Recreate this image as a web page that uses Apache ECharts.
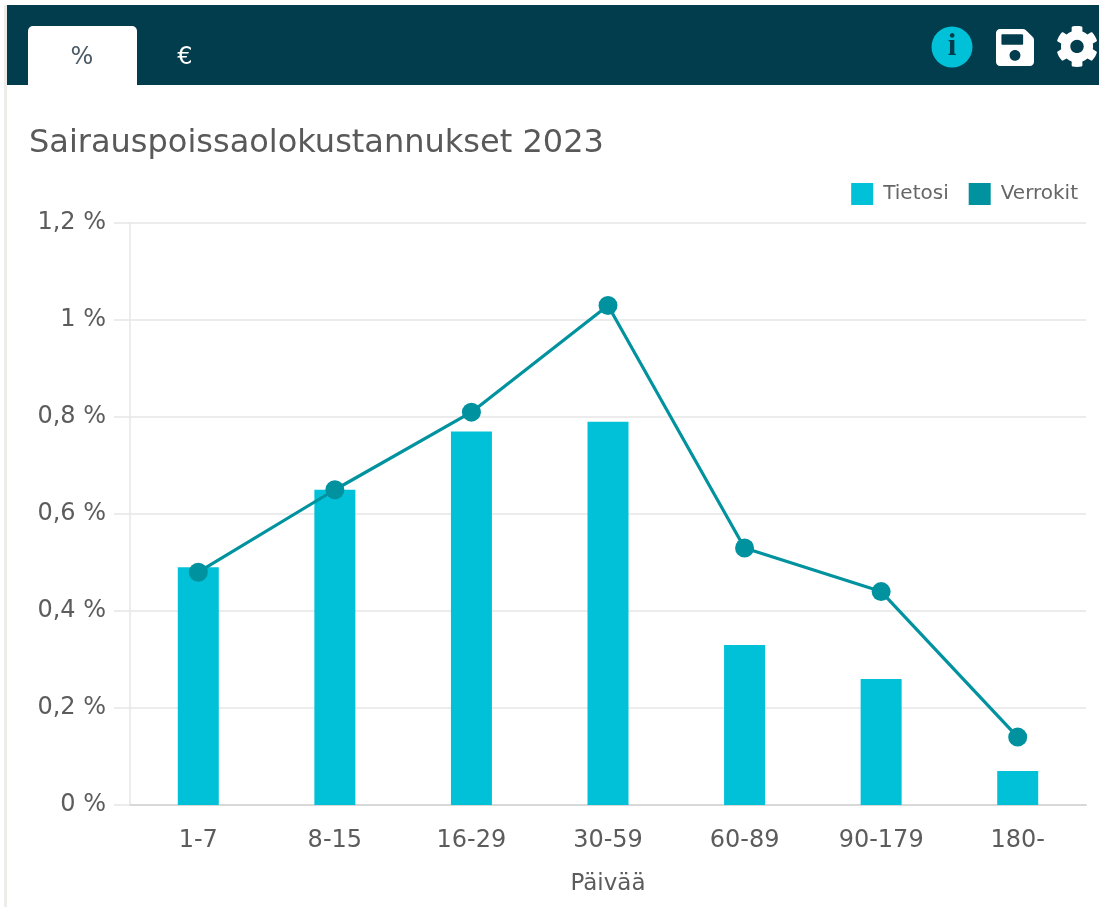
<!DOCTYPE html>
<html>
<head>
<meta charset="utf-8">
<style>
html, body { margin: 0; padding: 0; background: #fff; }
#chart { width: 1099px; height: 907px; }
</style>
<script src="https://cdn.jsdelivr.net/npm/echarts@6/dist/echarts.min.js"></script>
</head>
<body>
<div id="chart"></div>
<script>
const categories = ['1-7', '8-15', '16-29', '30-59', '60-89', '90-179', '180-'];
const tietosi = [0.49, 0.65, 0.77, 0.79, 0.33, 0.26, 0.07];
const verrokit = [0.48, 0.65, 0.81, 1.03, 0.53, 0.44, 0.14];
const titleText = 'Sairauspoissaolokustannukset 2023';
const tabs = ['%', '€'];

const fontName = '"DejaVu Sans", Verdana, sans-serif';
const barColor = '#00c1d8';
const lineColor = '#00929f';
const headerColor = '#023d4d';
const textColor = '#5c5c5c';

const floppyPath = 'M433.941 129.941l-83.882-83.882A48 48 0 0 0 316.118 32H48C21.49 32 0 53.49 0 80v352c0 26.51 21.49 48 48 48h352c26.51 0 48-21.49 48-48V163.882a48 48 0 0 0-14.059-33.941zM224 416c-35.346 0-64-28.654-64-64 0-35.346 28.654-64 64-64s64 28.654 64 64c0 35.346-28.654 64-64 64zm96-304.52V212c0 6.627-5.373 12-12 12H76c-6.627 0-12-5.373-12-12V108c0-6.627 5.373-12 12-12h228.52c3.183 0 6.235 1.264 8.485 3.515l3.48 3.48A11.996 11.996 0 0 1 320 111.48z';
const gearPath = 'M487.4 315.7l-42.6-24.6c4.3-23.2 4.3-47 0-70.2l42.6-24.6c4.9-2.8 7.1-8.6 5.5-14-11.1-35.6-30-67.8-54.7-94.6-3.8-4.1-10-5.1-14.8-2.3L380.8 110c-17.9-15.4-38.5-27.3-60.8-35.1V25.8c0-5.6-3.9-10.5-9.4-11.7-36.7-8.2-74.3-7.8-109.2 0-5.5 1.2-9.4 6.1-9.4 11.7V75c-22.2 7.9-42.8 19.8-60.8 35.1L88.7 85.5c-4.9-2.8-11-1.9-14.8 2.3-24.7 26.7-43.6 58.9-54.7 94.6-1.7 5.4.6 11.2 5.5 14L67.3 221c-4.3 23.2-4.3 47 0 70.2l-42.6 24.6c-4.9 2.8-7.1 8.6-5.5 14 11.1 35.6 30 67.8 54.7 94.6 3.8 4.1 10 5.1 14.8 2.3l42.6-24.6c17.9 15.4 38.5 27.3 60.8 35.1v49.2c0 5.6 3.9 10.5 9.4 11.7 36.7 8.2 74.3 7.8 109.2 0 5.5-1.2 9.4-6.1 9.4-11.7v-49.2c22.2-7.9 42.8-19.8 60.8-35.1l42.6 24.6c4.9 2.8 11 1.9 14.8-2.3 24.7-26.7 43.6-58.9 54.7-94.6 1.5-5.5-.7-11.3-5.6-14.1zM256 336c-44.1 0-80-35.9-80-80s35.9-80 80-80 80 35.9 80 80-35.9 80-80 80z';

// the graphic component only knows shapes registered by name
echarts.graphic.registerShape('floppyIcon', echarts.graphic.extendPath(floppyPath, {}));
echarts.graphic.registerShape('gearIcon', echarts.graphic.extendPath(gearPath, {}));

const chart = echarts.init(document.getElementById('chart'));

const option = {
    animation: false,
    backgroundColor: '#fff',
    textStyle: { fontFamily: fontName },
    title: {
        text: titleText,
        left: 29,
        top: 128,
        padding: 0,
        textStyle: { fontFamily: fontName, fontSize: 32, fontWeight: 'normal', color: '#595959' }
    },
    legend: {
        right: 21,
        top: 183,
        padding: 0,
        itemWidth: 22,
        itemHeight: 22,
        itemGap: 20,
        icon: 'rect',
        textStyle: { fontFamily: fontName, fontSize: 20, color: '#666', padding: [2, 0, 0, 5] },
        data: [
            { name: 'Tietosi', itemStyle: { color: barColor } },
            { name: 'Verrokit', itemStyle: { color: lineColor } }
        ]
    },
    // v6 squeezes the grid to fit the axis name otherwise
    grid: { left: 130, right: 13, top: 223, bottom: 102, outerBoundsMode: 'none' },
    xAxis: {
        type: 'category',
        data: categories,
        name: 'Päivää',
        nameLocation: 'middle',
        nameGap: 68,
        nameTextStyle: { fontSize: 23, color: textColor, fontFamily: fontName },
        axisLine: { lineStyle: { color: '#d8d8d8', width: 2 } },
        axisTick: { show: false },
        axisLabel: { margin: 24, fontSize: 24, color: textColor, fontFamily: fontName }
    },
    yAxis: {
        type: 'value',
        min: 0,
        max: 1.2,
        interval: 0.2,
        axisLine: { show: true, lineStyle: { color: '#e6e6e6', width: 1.5 } },
        axisTick: { show: true, length: 16, lineStyle: { color: '#e6e6e6', width: 1.5 } },
        splitLine: { lineStyle: { color: '#e6e6e6', width: 1.5 } },
        axisLabel: {
            margin: 24,
            fontSize: 24,
            color: textColor,
            fontFamily: fontName,
            padding: [6, 0, 0, 0],
            formatter: v => String(Math.round(v * 10) / 10).replace('.', ',') + ' %'
        }
    },
    series: [
        {
            name: 'Tietosi',
            type: 'bar',
            data: tietosi,
            barWidth: 41,
            itemStyle: { color: barColor }
        },
        {
            name: 'Verrokit',
            type: 'line',
            data: verrokit,
            symbol: 'circle',
            symbolSize: 19,
            lineStyle: { color: lineColor, width: 3.2 },
            itemStyle: { color: lineColor }
        }
    ],
    graphic: [
        { type: 'rect', silent: true, shape: { x: 4, y: 0, width: 3, height: 907 }, style: { fill: '#ecece8' } },
        { type: 'rect', silent: true, shape: { x: 0, y: 0, width: 1099, height: 5 }, style: { fill: '#fff' } },
        { type: 'rect', silent: true, shape: { x: 7, y: 5, width: 1092, height: 80 }, style: { fill: headerColor } },
        { type: 'rect', silent: true, shape: { x: 28, y: 26, width: 109, height: 59, r: [5, 5, 0, 0] }, style: { fill: '#fff' } },
        { type: 'text', silent: true, x: 82, y: 58, style: { text: tabs[0], fill: '#4a5a66', font: '24px ' + fontName, textAlign: 'center', textVerticalAlign: 'middle' } },
        { type: 'text', silent: true, x: 185, y: 58, style: { text: tabs[1], fill: '#fff', font: '24px ' + fontName, textAlign: 'center', textVerticalAlign: 'middle' } },
        { type: 'circle', silent: true, shape: { cx: 952, cy: 47, r: 20.5 }, style: { fill: barColor } },
        { type: 'text', silent: true, x: 952, y: 47, style: { text: 'i', fill: headerColor, font: 'bold 31px "Liberation Serif", serif', textAlign: 'center', textVerticalAlign: 'middle' } },
        { type: 'floppyIcon', silent: true, x: 996, y: 26.3, scaleX: 0.0848, scaleY: 0.0826, style: { fill: '#fff' } },
        { type: 'gearIcon', silent: true, x: 1055.6, y: 25.3, scaleX: 0.0837, scaleY: 0.0826, style: { fill: '#fff' } }
    ]
};

chart.setOption(option);
</script>
</body>
</html>
